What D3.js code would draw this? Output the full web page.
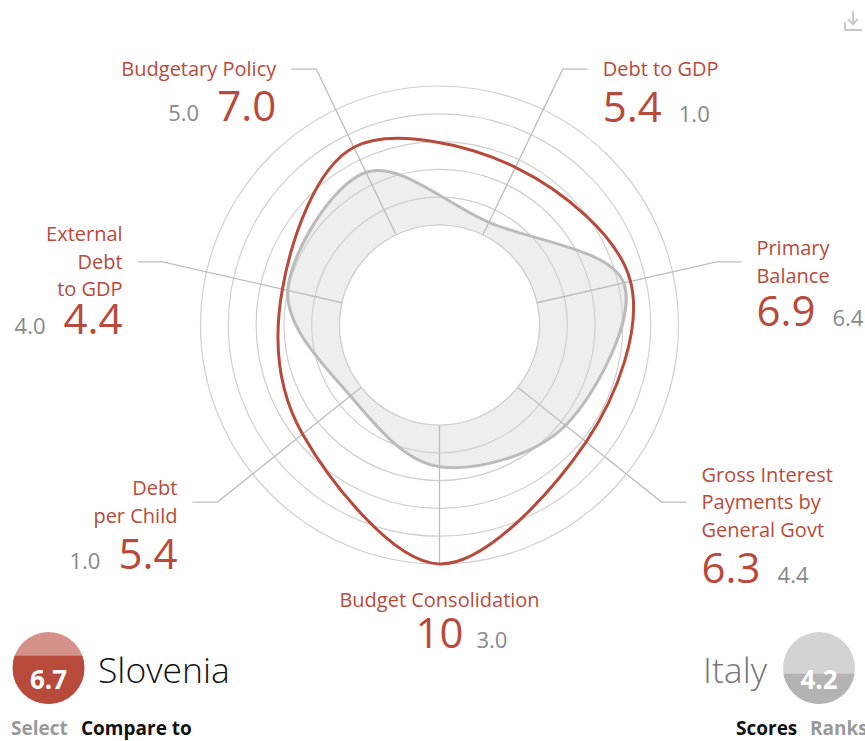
<!DOCTYPE html>
<html>
<head>
<meta charset="utf-8">
<script src="https://cdn.jsdelivr.net/npm/d3@7"></script>
<style>
  body { margin: 0; background: #fff; font-family: "Open Sans", sans-serif; }
  svg text { font-family: "Open Sans", sans-serif; }
</style>
</head>
<body>
<svg id="radar" width="865" height="741"></svg>
<script>
// axes clockwise, starting just right of 12 o'clock
var axes = ["Debt to GDP", "Primary Balance", "Gross Interest Payments by General Govt",
            "Budget Consolidation", "Debt per Child", "External Debt to GDP", "Budgetary Policy"];
var axisLabels = [["Debt to GDP"], ["Primary", "Balance"], ["Gross Interest", "Payments by", "General Govt"],
                  ["Budget Consolidation"], ["Debt", "per Child"], ["External", "Debt", "to GDP"], ["Budgetary Policy"]];
var slovenia = [5.4, 6.9, 6.3, 10, 5.4, 4.4, 7.0];
var italy = [1.0, 6.4, 4.4, 3.0, 1.0, 4.0, 5.0];
var ringTicks = [0, 2, 4, 6, 8, 10];
var countries = ["Slovenia", "Italy"];
var totals = [6.7, 4.2];

var red = "#b84a3b", redLight = "#d4918a", grey = "#888";

var svg = d3.select("#radar"),
    cx = 439.5, cy = 325,
    r = d3.scaleLinear().domain([0, 10]).range([100, 239]),
    n = axes.length,
    angle = function(i) { return (i + 0.5) * 2 * Math.PI / n; };

var g = svg.append("g").attr("transform", "translate(" + cx + "," + cy + ")");

var radial = d3.lineRadial()
    .angle(function(d, i) { return angle(i); })
    .radius(function(d) { return r(d); })
    .curve(d3.curveCardinalClosed.tension(0));

// italy area fill first, grid drawn over it
g.append("path")
    .attr("d", radial(italy))
    .attr("fill", "#eeeeee")
    .attr("stroke", "none");

g.selectAll(".ring")
  .data(ringTicks)
  .enter().append("circle")
    .attr("class", "ring")
    .attr("r", function(d) { return r(d); })
    .attr("fill", "none")
    .attr("stroke", "#cfcfcf")
    .attr("stroke-width", 1.2);

// leader lines: radial spoke, then a short horizontal step
var bendR = 284, step = 25;
function pt(i, rad) { return [rad * Math.sin(angle(i)), -rad * Math.cos(angle(i))]; }

axes.forEach(function(a, i) {
  var p0 = pt(i, r(0));
  if (i === 3) {
    g.append("line").attr("x1", p0[0]).attr("y1", p0[1]).attr("x2", 0).attr("y2", r(10) + 1)
      .attr("stroke", "#bdbdbd").attr("stroke-width", 1.3);
    return;
  }
  var pb = pt(i, bendR), dir = pb[0] > 0 ? 1 : -1;
  g.append("polyline")
    .attr("points", [p0, pb, [pb[0] + dir * step, pb[1]]].map(function(p) { return p.join(","); }).join(" "))
    .attr("fill", "none")
    .attr("stroke", "#bdbdbd")
    .attr("stroke-width", 1.3);
});

g.append("path")
    .attr("d", radial(italy))
    .attr("fill", "none")
    .attr("stroke", "#bbbbbb")
    .attr("stroke-width", 3);

g.append("path")
    .attr("d", radial(slovenia))
    .attr("fill", "none")
    .attr("stroke", red)
    .attr("stroke-width", 3);

g.append("circle")
    .attr("r", r(0))
    .attr("fill", "#fff")
    .attr("stroke", "#cfcfcf")
    .attr("stroke-width", 1.2);

// axis labels
var lh = 27.5, bigGap = [46, 43, 46, 41, 46, 38, 45];
function fmt(v) { return v === 10 ? "10" : v.toFixed(1); }

axes.forEach(function(a, i) {
  var lines = axisLabels[i], x, anchor, lineY;
  if (i === 3) {
    x = cx; anchor = "middle"; lineY = 600;
  } else {
    var pb = pt(i, bendR), dir = pb[0] > 0 ? 1 : -1;
    x = cx + pb[0] + dir * (step + 15);
    anchor = dir > 0 ? "start" : "end";
    lineY = cy + pb[1];
  }
  var y0 = lineY + 7 - (lines.length - 1) * lh / 2;
  lines.forEach(function(l, k) {
    svg.append("text")
      .attr("x", x).attr("y", y0 + k * lh)
      .attr("text-anchor", anchor)
      .attr("fill", red)
      .attr("font-size", 20)
      .text(l);
  });
  var by = y0 + (lines.length - 1) * lh + bigGap[i];
  var big = svg.append("text")
      .attr("x", x).attr("y", by)
      .attr("text-anchor", anchor)
      .attr("fill", red)
      .attr("font-size", 42)
      .text(fmt(slovenia[i]));
  var w = big.node().getComputedTextLength();
  var sx, sAnchor;
  if (anchor === "start") { sx = x + w + 17; sAnchor = "start"; }
  else if (anchor === "end") { sx = x - w - 18; sAnchor = "end"; }
  else { sx = x + w / 2 + 13; sAnchor = "start"; }
  svg.append("text")
      .attr("x", sx).attr("y", by)
      .attr("text-anchor", sAnchor)
      .attr("fill", grey)
      .attr("font-size", 22)
      .text(fmt(italy[i]));
});

// score badges
function badge(x, y, score, top, bottom, id) {
  var rad = 36;
  svg.append("clipPath").attr("id", id)
    .append("rect")
      .attr("x", x - rad).attr("width", 2 * rad)
      .attr("y", y + rad - 2 * rad * score / 10)
      .attr("height", 2 * rad * score / 10);
  svg.append("circle").attr("cx", x).attr("cy", y).attr("r", rad).attr("fill", top);
  svg.append("circle").attr("cx", x).attr("cy", y).attr("r", rad).attr("fill", bottom)
    .attr("clip-path", "url(#" + id + ")");
  svg.append("text").attr("x", x).attr("y", y + 21)
    .attr("text-anchor", "middle").attr("fill", "#fff")
    .attr("font-size", 26).attr("font-weight", 700)
    .text(score.toFixed(1));
}
badge(48.5, 668, totals[0], redLight, red, "clipA");
badge(819, 668, totals[1], "#d3d3d3", "#b3b3b3", "clipB");

svg.append("text").attr("x", 98).attr("y", 683)
  .attr("font-size", 35.5).attr("font-weight", 300).attr("fill", "#111")
  .text(countries[0]);
svg.append("text").attr("x", 767).attr("y", 683).attr("text-anchor", "end")
  .attr("font-size", 35.5).attr("font-weight", 300).attr("fill", "#777")
  .text(countries[1]);

// toggles under the badges
svg.append("text").attr("x", 11).attr("y", 735).attr("font-size", 19).attr("font-weight", 700)
  .attr("fill", "#999").text("Select");
svg.append("text").attr("x", 81).attr("y", 735).attr("font-size", 19).attr("font-weight", 700)
  .attr("fill", "#111").text("Compare to");
svg.append("text").attr("x", 736).attr("y", 735).attr("font-size", 19).attr("font-weight", 700)
  .attr("fill", "#111").text("Scores");
svg.append("text").attr("x", 810).attr("y", 735).attr("font-size", 19).attr("font-weight", 700)
  .attr("fill", "#999").text("Ranks");

// download icon
var ic = svg.append("g").attr("fill", "none").attr("stroke", "#c8c8c8").attr("stroke-width", 2);
ic.append("path").attr("d", "M853,11 V24 M848,19 L853,24 L858,19");
ic.append("path").attr("d", "M845,22 V30 H862");
</script>
</body>
</html>
